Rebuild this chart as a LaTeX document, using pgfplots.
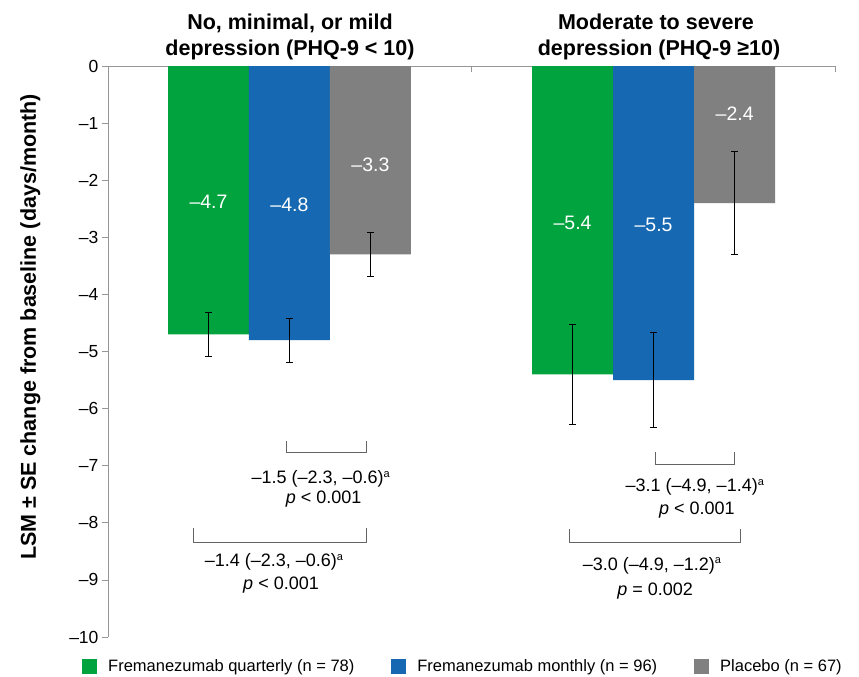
\documentclass[border=0pt]{standalone}
\usepackage{fontspec}
\setmainfont{Liberation Sans}
\usepackage{pgfplots}
\pgfplotsset{compat=1.18}
\definecolor{cgreen}{RGB}{0,163,62}
\definecolor{cblue}{RGB}{22,104,178}
\definecolor{cgray}{RGB}{128,128,128}
\definecolor{caxis}{RGB}{150,150,150}
\definecolor{cbracket}{RGB}{100,100,100}
\pgfplotsset{sqlegend/.style={legend image code/.code={\fill[##1] (0pt,-7.5pt) rectangle (15pt,7.5pt);}}}
\begin{document}
\begin{tikzpicture}
\useasboundingbox (-108pt,66pt) rectangle (751pt,-611pt);
\begin{axis}[
  at={(0pt,0pt)}, anchor=north west,
  scale only axis, width=727pt, height=571pt,
  xmin=0, xmax=2, ymin=-10, ymax=0,
  axis x line*=top, axis y line*=left,
  axis line style={caxis, line width=0.8pt},
  xtick={1,2}, xticklabels={},
  x tick style={caxis, line width=0.8pt, yshift=-6pt},
  ytick={-10,-9,...,0},
  yticklabels={–10,–9,–8,–7,–6,–5,–4,–3,–2,–1,0},
  y tick style={caxis, line width=0.8pt},
  tick align=outside, major tick length=6pt,
  yticklabel style={font=\fontsize{17.5}{20}\selectfont, text=black},
  clip=false,
  legend columns=3,
  legend cell align=left,
  legend style={draw=none, fill=none, inner sep=0pt,
    font=\fontsize{16.5}{19}\selectfont,
    at={(axis description cs:-0.0358,-0.0508)}, anchor=west,
    /tikz/every odd column/.append style={column sep=9pt},
    /tikz/every even column/.append style={column sep=35pt}},
  error bars/error bar style={black, line width=0.8pt},
  error bars/error mark options={rotate=90, black, mark size=3.5pt, line width=0.8pt},
]
\addplot[ybar, bar shift=0pt, bar width=0.2228, fill=cgreen, draw=none, sqlegend,
  error bars/.cd, y dir=both, y explicit]
  coordinates {(0.2765,-4.7) +- (0,0.38) (1.278,-5.4) +- (0,0.87)};
\addlegendentry{Fremanezumab quarterly (n = 78)}
\addplot[ybar, bar shift=0pt, bar width=0.2228, fill=cblue, draw=none, sqlegend,
  error bars/.cd, y dir=both, y explicit]
  coordinates {(0.499,-4.8) +- (0,0.385) (1.501,-5.5) +- (0,0.83)};
\addlegendentry{Fremanezumab monthly (n = 96)}
\addplot[ybar, bar shift=0pt, bar width=0.2228, fill=cgray, draw=none, sqlegend,
  error bars/.cd, y dir=both, y explicit]
  coordinates {(0.722,-3.3) +- (0,0.38) (1.724,-2.4) +- (0,0.9)};
\addlegendentry{Placebo (n = 67)}

% value labels
\begin{scope}[every node/.style={text=white, font=\fontsize{19.5}{23}\selectfont, anchor=center}]
\node at (axis cs:0.2765,-2.38) {–4.7};
\node at (axis cs:0.499,-2.43) {–4.8};
\node at (axis cs:0.722,-1.73) {–3.3};
\node at (axis cs:1.278,-2.75) {–5.4};
\node at (axis cs:1.501,-2.78) {–5.5};
\node at (axis cs:1.724,-0.83) {–2.4};
\end{scope}

% brackets
\draw[cbracket, line width=0.7pt] (axis cs:0.49,-6.57) -- (axis cs:0.49,-6.76) -- (axis cs:0.71,-6.76) -- (axis cs:0.71,-6.57);
\draw[cbracket, line width=0.7pt] (axis cs:0.234,-8.09) -- (axis cs:0.234,-8.35) -- (axis cs:0.71,-8.35) -- (axis cs:0.71,-8.09);
\draw[cbracket, line width=0.7pt] (axis cs:1.505,-6.76) -- (axis cs:1.505,-6.97) -- (axis cs:1.722,-6.97) -- (axis cs:1.722,-6.76);
\draw[cbracket, line width=0.7pt] (axis cs:1.268,-8.11) -- (axis cs:1.268,-8.35) -- (axis cs:1.739,-8.35) -- (axis cs:1.739,-8.11);

\begin{scope}[every node/.style={font=\fontsize{18}{21}\selectfont, anchor=base}]
\node at (axis cs:0.586,-7.31) {–1.5 (–2.3, –0.6)\textsuperscript{\fontsize{11}{12}\selectfont a}};
\node at (axis cs:0.593,-7.66) {\textit{p} < 0.001};
\node at (axis cs:0.457,-8.77) {–1.4 (–2.3, –0.6)\textsuperscript{\fontsize{11}{12}\selectfont a}};
\node at (axis cs:0.476,-9.16) {\textit{p} < 0.001};
\node at (axis cs:1.615,-7.45) {–3.1 (–4.9, –1.4)\textsuperscript{\fontsize{11}{12}\selectfont a}};
\node at (axis cs:1.620,-7.85) {\textit{p} < 0.001};
\node at (axis cs:1.497,-8.83) {–3.0 (–4.9, –1.2)\textsuperscript{\fontsize{11}{12}\selectfont a}};
\node at (axis cs:1.505,-9.27) {\textit{p} = 0.002};
\end{scope}
\end{axis}

\begin{scope}[every node/.style={font=\fontsize{21.5}{25}\selectfont\bfseries, anchor=base}]
\node at (182pt,36pt) {No, minimal, or mild};
\node at (182pt,10pt) {depression (PHQ-9 < 10)};
\node at (548pt,36pt) {Moderate to severe};
\node at (551pt,10pt) {depression (PHQ-9 ≥10)};
\end{scope}
\node[rotate=90, anchor=base, font=\fontsize{21.5}{25}\selectfont\bfseries] at (-72pt,-261pt) {LSM ± SE change from baseline (days/month)};
\end{tikzpicture}
\end{document}
